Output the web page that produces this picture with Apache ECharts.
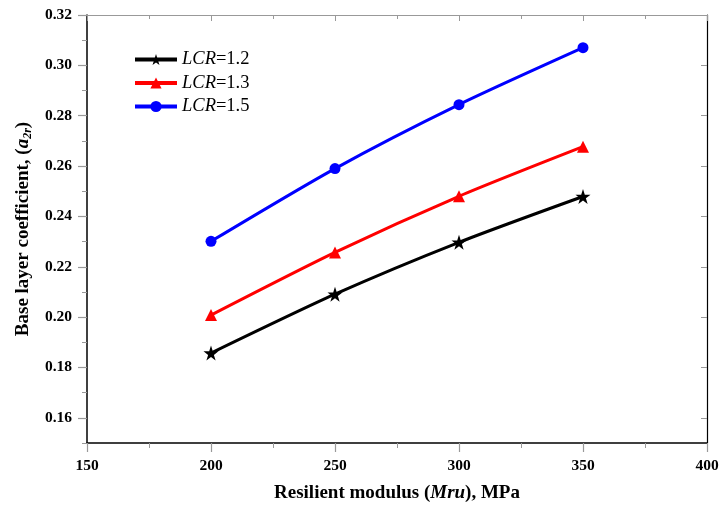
<!DOCTYPE html>
<html><head><meta charset="utf-8">
<script src="https://cdn.jsdelivr.net/npm/echarts@6/dist/echarts.min.js"></script>
<style>html,body{margin:0;padding:0;background:#fff}#c{width:722px;height:508px}</style>
</head><body><div id="c"></div>
<script>
const xValues = [200, 250, 300, 350];
const seriesNames = ['LCR=1.2', 'LCR=1.3', 'LCR=1.5'];
const lcr12 = [0.1857, 0.2091, 0.2297, 0.2479];
const lcr13 = [0.2008, 0.2257, 0.2480, 0.2677];
const lcr15 = [0.2301, 0.2590, 0.2844, 0.3070];
const yTickLabels = [0.16, 0.18, 0.20, 0.22, 0.24, 0.26, 0.28, 0.30, 0.32];
const xTickLabels = [150, 200, 250, 300, 350, 400];

const FONT = '"Liberation Serif", "Times New Roman", serif';
const star = 'path://M50,0 L61.8,35.3 L99,35.3 L68.8,57.2 L80.2,92.7 L50,70.8 L19.8,92.7 L31.2,57.2 L1,35.3 L38.2,35.3 Z';
const colors = ['#000000', '#ff0000', '#0000ff'];
const symbols = [star, 'triangle', 'circle'];
const sizes = [15, 12, 11];
const allData = [lcr12, lcr13, lcr15];

const chart = echarts.init(document.getElementById('c'));
chart.setOption({
  animation: false,
  backgroundColor: '#fff',
  grid: {left: 87, right: 15, top: 15, bottom: 64, containLabel: false},
  legend: {
    orient: 'vertical', left: 133, top: 50, itemGap: 4.5, padding: 0,
    itemWidth: 42, itemHeight: 14,
    data: seriesNames,
    lineStyle: {width: 4},
    formatter: n => '{i|LCR}{n|' + n.slice(3) + '}',
    textStyle: {
      rich: {
        i: {fontFamily: FONT, fontStyle: 'italic', fontSize: 18.5, color: '#000'},
        n: {fontFamily: FONT, fontSize: 18.5, color: '#000'}
      }
    }
  },
  xAxis: [
    {
      type: 'value', min: 150, max: 400, interval: 50, position: 'bottom',
      name: '{b|Resilient modulus (}{i|Mru}{b|), MPa}',
      nameLocation: 'middle', nameGap: 41,
      nameTextStyle: {rich: {
        b: {fontFamily: FONT, fontWeight: 'bold', fontSize: 19, color: '#000'},
        i: {fontFamily: FONT, fontWeight: 'bold', fontStyle: 'italic', fontSize: 19, color: '#000'}
      }},
      axisLine: {show: true, lineStyle: {color: '#000', width: 1.5}},
      axisTick: {show: true, inside: false, length: 9, lineStyle: {color: '#999', width: 1.2}},
      minorTick: {show: true, splitNumber: 2, length: 5, lineStyle: {color: '#999', width: 1}},
      axisLabel: {fontFamily: FONT, fontWeight: 'bold', fontSize: 15.5, color: '#000', margin: 15},
      splitLine: {show: false}
    },
    {
      type: 'value', min: 150, max: 400, interval: 50, position: 'top',
      axisLine: {show: true, onZero: false, lineStyle: {color: '#999', width: 1.2}},
      axisTick: {show: true, inside: true, length: 6, lineStyle: {color: '#999'}},
      minorTick: {show: true, splitNumber: 2, length: 4, lineStyle: {color: '#999'}},
      axisLabel: {show: false}, splitLine: {show: false}
    }
  ],
  yAxis: [
    {
      type: 'value', min: 0.15, max: 0.32, position: 'left',
      name: '{b|Base layer coefficient, (}{i|a}{s|2r}{b|)}',
      nameLocation: 'middle', nameGap: 50, nameRotate: 90,
      nameTextStyle: {rich: {
        b: {fontFamily: FONT, fontWeight: 'bold', fontSize: 19, color: '#000', lineHeight: 23},
        i: {fontFamily: FONT, fontWeight: 'bold', fontStyle: 'italic', fontSize: 19, color: '#000', lineHeight: 23},
        s: {fontFamily: FONT, fontWeight: 'bold', fontStyle: 'italic', fontSize: 12, color: '#000', lineHeight: 23, padding: [9, 0, 0, 0]}
      }},
      axisLine: {show: true, lineStyle: {color: '#000', width: 1.5}},
      axisTick: {show: true, inside: false, length: 9, customValues: yTickLabels, lineStyle: {color: '#999', width: 1.2}},
      axisLabel: {fontFamily: FONT, fontWeight: 'bold', fontSize: 15.5, color: '#000', margin: 15,
        customValues: yTickLabels, formatter: v => v.toFixed(2)},
      splitLine: {show: false}
    },
    {
      type: 'value', min: 0.15, max: 0.32, interval: 0.01, position: 'left',
      axisLine: {show: false},
      axisTick: {show: true, inside: false, length: 5, lineStyle: {color: '#999', width: 1}},
      axisLabel: {show: false}, splitLine: {show: false}
    },
    {
      type: 'value', min: 0.15, max: 0.32, position: 'right',
      axisLine: {show: true, onZero: false, lineStyle: {color: '#000', width: 1.2}},
      axisTick: {show: true, inside: true, length: 6, customValues: yTickLabels, lineStyle: {color: '#999'}},
      axisLabel: {show: false}, splitLine: {show: false}
    }
  ],
  series: seriesNames.map((n, i) => ({
    name: n, type: 'line', xAxisIndex: 0, yAxisIndex: 0,
    smooth: 0.25,
    data: xValues.map((x, j) => [x, allData[i][j]]),
    symbol: symbols[i], symbolSize: sizes[i],
    showAllSymbol: true,
    lineStyle: {color: colors[i], width: 3},
    itemStyle: {color: colors[i]},
    z: 3 + i
  }))
});
</script></body></html>
